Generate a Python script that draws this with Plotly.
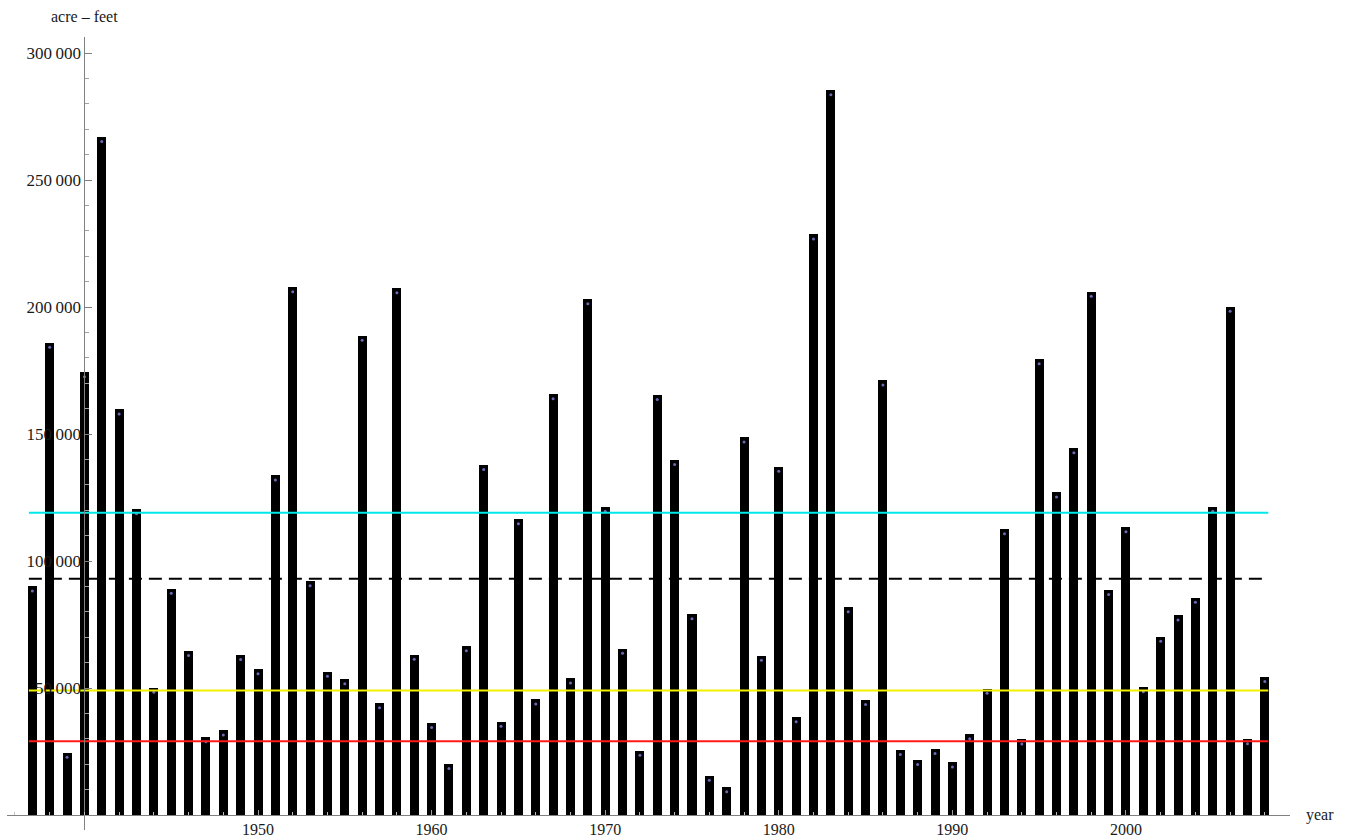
import plotly.graph_objects as go

# ---- data ----
years = list(range(1937, 2009))
flow = [90000, 186000, 24500, 174300, 267000, 159700, 120400, 50100, 89100, 64600,
        30600, 33300, 63000, 57400, 133700, 207800, 92100, 56400, 53500, 188700,
        44000, 207400, 63100, 36300, 20100, 66500, 137800, 36700, 116500, 45500,
        165700, 53800, 203100, 121400, 65500, 25300, 165400, 139800, 79100, 15500,
        11000, 148700, 62700, 137100, 38500, 228600, 285400, 81800, 45300, 171100,
        25600, 21700, 26000, 20700, 31800, 49700, 112500, 29800, 179500, 127000,
        144400, 206000, 88600, 113300, 50300, 70200, 78600, 85600, 121400, 200100,
        29900, 54400]

level_values = [119000, 93000, 49000, 29000]
level_colors = ["#00e8e8", "#000000", "#f2f200", "#ff1a1a"]
level_dash = ["solid", "13px,7px", "solid", "solid"]

x_tick_vals = [1950, 1960, 1970, 1980, 1990, 2000]
x_tick_text = ["1950", "1960", "1970", "1980", "1990", "2000"]
y_tick_vals = [50000, 100000, 150000, 200000, 250000, 300000]
y_tick_text = ["50\u2009000", "100\u2009000", "150\u2009000", "200\u2009000", "250\u2009000", "300\u2009000"]

# ---- layout parameters ----
x_range = [1935.54, 2009.45]
y_range = [-5900, 306300]
axis_cross_x = 1940
FONT = "Liberation Serif, Times New Roman, serif"
FS = 16

fig = go.Figure()

fig.add_trace(go.Bar(
    x=years, y=flow, width=0.52,
    marker=dict(color="#000000", line=dict(width=0)),
    hoverinfo="x+y", showlegend=False,
))

# small point markers near bar tops
fig.add_trace(go.Scatter(
    x=years, y=[v - 1800 for v in flow], mode="markers",
    marker=dict(size=3, color="#6a6ab8"), hoverinfo="skip", showlegend=False,
))

x_start = years[0] - 0.2
x_end = years[-1] + 0.2
for val, col, dash in zip(level_values, level_colors, level_dash):
    fig.add_trace(go.Scatter(
        x=[x_start, x_end], y=[val, val], mode="lines",
        line=dict(color=col, width=2, dash=dash),
        hoverinfo="skip", showlegend=False,
    ))

x_pos = (0 - y_range[0]) / (y_range[1] - y_range[0])
y_pos = (axis_cross_x - x_range[0]) / (x_range[1] - x_range[0])

fig.update_layout(
    template="none",
    width=1349, height=838,
    margin=dict(l=7, r=59, t=37, b=8, autoexpand=False),
    paper_bgcolor="white", plot_bgcolor="white",
    font=dict(family=FONT, size=FS, color="#1a1a1a"),
    bargap=0,
    xaxis=dict(
        range=x_range, anchor="free", position=x_pos, automargin=False,
        showgrid=False, zeroline=False,
        showline=True, linecolor="#808080", linewidth=1,
        tickvals=x_tick_vals, ticktext=x_tick_text,
        ticks="inside", ticklen=5, tickcolor="#a0a0a0",
        minor=dict(dtick=2, tick0=1940, ticks="inside", ticklen=3, tickcolor="#c0c0c0"),
        tickfont=dict(family=FONT, size=FS, color="#1a1a1a"),
    ),
    yaxis=dict(
        range=y_range, anchor="free", position=y_pos, automargin=False,
        showgrid=False, zeroline=False,
        showline=True, linecolor="#808080", linewidth=1,
        tickvals=y_tick_vals, ticktext=y_tick_text,
        ticks="inside", ticklen=7, tickcolor="#808080",
        minor=dict(dtick=10000, tick0=0, ticks="inside", ticklen=4, tickcolor="#a0a0a0"),
        tickfont=dict(family=FONT, size=17, color="#1a1a1a"),
    ),
    annotations=[
        dict(text="acre \u2013 feet", xref="paper", yref="paper",
             x=y_pos, y=1, xanchor="center", yanchor="bottom", yshift=10,
             showarrow=False, font=dict(family=FONT, size=FS, color="#1a1a1a")),
        dict(text="year", xref="paper", yref="paper",
             x=1, y=x_pos, xanchor="left", yanchor="middle", xshift=14,
             showarrow=False, font=dict(family=FONT, size=FS, color="#1a1a1a")),
    ],
)

fig.write_html(
    "out.html",
    config={"displayModeBar": False},
    post_script="document.body.style.margin='0';document.body.style.overflow='hidden';",
)
